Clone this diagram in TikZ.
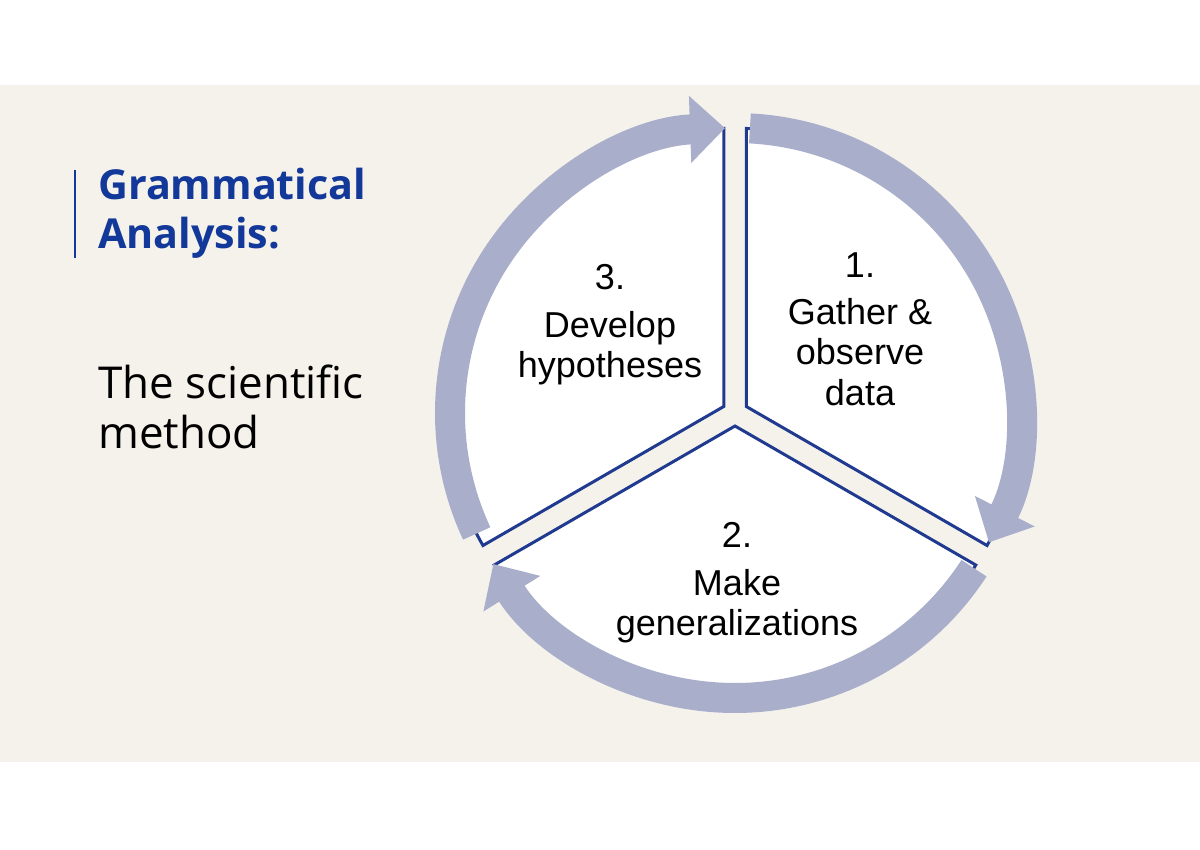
\documentclass[tikz,border=0pt]{standalone}
\usepackage{fontspec}
\setmainfont{Liberation Sans}
\newfontfamily\titlefont{Open Sans}
\usetikzlibrary{arrows.meta}
\definecolor{beige}{HTML}{F5F2EC}
\definecolor{ringblue}{HTML}{A9AECB}
\definecolor{edgeblue}{HTML}{1F3A8F}
\definecolor{titleblue}{HTML}{12389A}
\tikzset{
  sector/.style = {fill=white, draw=edgeblue, line width=0.06cm},
  ring/.style = {draw=ringblue, line width=0.6cm, -{Triangle[length=0.7cm,width=1.3cm]}},
  label/.style = {font=\fontsize{20.5}{23}\selectfont, align=center},
  side/.style = {font=\titlefont\fontsize{25}{28}\selectfont, anchor=west, align=left}
}
\begin{document}
\begin{tikzpicture}[x=0.02cm, y=0.02cm]
    \useasboundingbox (0, 0) rectangle (1200, 849);
    \fill [beige] (0, 87) rectangle (1200, 764);

    % sectors
    \coordinate (c) at (735, 436);
    \draw [sector] ([shift={(30:13)}]c) -- +(90:278) arc [start angle=90, end angle=-30, radius=278] -- cycle;
    \draw [sector] ([shift={(-90:13)}]c) -- +(-30:278) arc [start angle=-30, end angle=-150, radius=278] -- cycle;
    \draw [sector] ([shift={(150:13)}]c) -- +(210:278) arc [start angle=210, end angle=90, radius=278] -- cycle;

    % ring arrows
    \draw [ring] (c) ++(205:285) arc [start angle=205, end angle=92, radius=285];
    \draw [ring] (c) ++(87:285) arc [start angle=87, end angle=-27, radius=285];
    \draw [ring] (c) ++(-33:285) arc [start angle=-33, end angle=-148, radius=285];

    % labels
    \node [label] (gather) at (860, 520) {1.\\[4pt] Gather \&\\observe\\data};
    \node [label] (general) at (737, 266) {2.\\[4pt] Make\\generalizations};
    \node [label] (develop) at (610, 524) {3.\\[4pt] Develop\\hypotheses};

    % side text
    \draw [titleblue, line width=0.05cm] (75, 679) -- (75, 591);
    \node [side, text=titleblue, font=\titlefont\bfseries\fontsize{23.5}{28}\selectfont] (title) at (92, 636) {Grammatical\\Analysis:};
    \node [side] (method) at (92, 442) {The scientific\\method};
\end{tikzpicture}
\end{document}
